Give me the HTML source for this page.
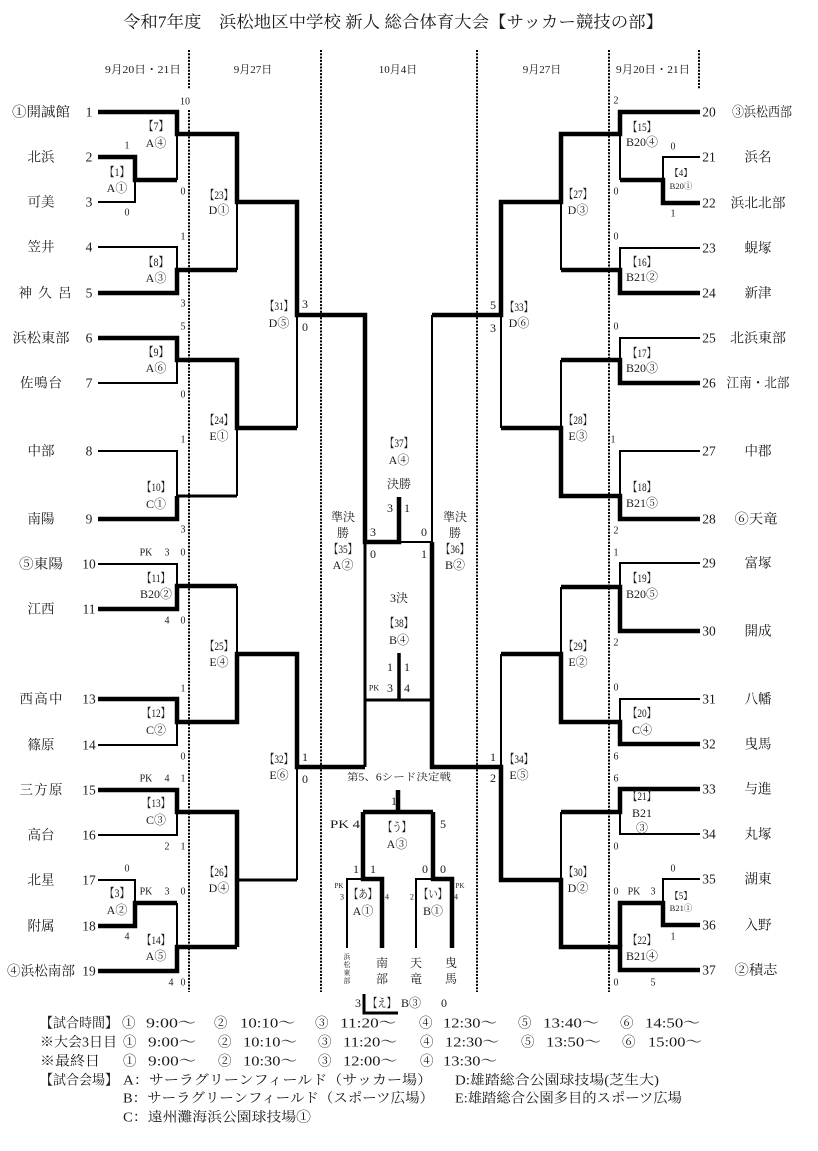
<!DOCTYPE html>
<html><head><meta charset="utf-8"><style>
html,body{margin:0;padding:0;background:#fff;}
svg{display:block}
text{font-family:"Liberation Serif","Noto Serif CJK SC",serif;fill:#1a1a1a;text-anchor:middle;dominant-baseline:central}
.n{font-size:13.5px}
.l{font-size:12px}
.s{font-size:10px}
.ss{font-size:8px}
.h{font-size:11px}
.f{font-size:13.5px}
.f text{text-anchor:start}
.k{stroke:#000;stroke-width:4.5;fill:none;stroke-linejoin:miter}
.t{stroke:#000;stroke-width:2;fill:none}
.m{stroke:#000;stroke-width:3;fill:none}
.d{stroke:#000;stroke-width:2;stroke-dasharray:2 1.3;fill:none}
</style></head><body>
<svg width="818" height="1151" viewBox="0 0 818 1151" xmlns="http://www.w3.org/2000/svg">
<rect width="818" height="1151" fill="#fff"/>
<!-- title -->
<text x="123" y="22" style="font-size:16.5px;text-anchor:start" textLength="540" lengthAdjust="spacingAndGlyphs">令和7年度　浜松地区中学校 新人 総合体育大会【サッカー競技の部】</text>
<!-- header dates -->
<text class="h" x="143" y="70" textLength="76" lengthAdjust="spacingAndGlyphs">9月20日・21日</text>
<text class="h" x="253" y="70">9月27日</text>
<text class="h" x="398" y="70">10月4日</text>
<text class="h" x="542" y="70">9月27日</text>
<text class="h" x="653" y="70" textLength="74" lengthAdjust="spacingAndGlyphs">9月20日・21日</text>
<!-- dotted lines -->
<path class="d" d="M189 50V89M189 110V992M321 50V992M477 50V992M609 50V992M699 50V89"/>

<!-- LEFT BRACKET LINES -->
<path class="k" d="M98 112H177V134H237V202H297V315H365V542H399V497"/>
<path class="t" d="M177 134V180"/>
<path class="k" d="M98 157H135V180H177"/>
<path class="t" d="M98 202H135V180"/>
<path class="t" d="M98 247H177V270"/>
<path class="k" d="M98 293H177V270H237"/>
<path class="t" d="M237 202V270"/>
<path class="k" d="M98 338H177V360H237V428H297"/>
<path class="t" d="M98 383H177V360"/>
<path class="t" d="M297 315V428"/>
<path class="t" d="M98 451H177V496"/>
<path class="k" d="M98 519H177V496"/>
<path class="m" d="M177 496H237"/>
<path class="t" d="M237 428V496"/>
<path class="t" d="M98 564H177V586"/>
<path class="k" d="M98 609H177V586H237"/>
<path class="t" d="M237 586V654"/>
<path class="k" d="M98 699H177V722H237V654H297V767H365"/>
<path class="t" d="M98 745H177V722"/>
<path class="t" d="M297 767V880"/>
<path class="k" d="M98 790H177V812H237V947"/>
<path class="t" d="M98 835H177V812"/>
<path class="t" d="M98 880H135V903"/>
<path class="k" d="M98 926H135V903H177"/>
<path class="t" d="M177 903V947"/>
<path class="k" d="M98 971H177V947H237"/>
<path class="m" d="M237 880H297"/>
<!-- center -->
<path class="m" d="M365 542V767"/>
<path class="t" d="M399 542H432"/>
<path class="t" d="M432 315V542"/>
<path class="k" d="M432 542V767H501V880H561V947H620V970H700"/>
<path class="m" d="M365 700H432"/>
<path class="k" style="stroke-width:3.5" d="M399 653V700"/>

<!-- RIGHT BRACKET LINES -->
<path class="k" d="M432 315H501V202H561V134H620V112H700"/>
<path class="t" d="M620 134V180"/>
<path class="k" d="M700 203H663V180H620"/>
<path class="t" d="M700 157H663V180"/>
<path class="t" d="M700 248H620V270"/>
<path class="k" d="M700 293H620V270H561"/>
<path class="t" d="M561 202V270"/>
<path class="t" d="M501 315V428"/>
<path class="t" d="M700 338H620V360"/>
<path class="k" d="M700 383H620V360H561"/>
<path class="t" d="M561 360V428"/>
<path class="t" d="M700 451H620V496"/>
<path class="k" d="M700 519H620V496H561V428H501"/>
<path class="t" d="M700 563H620V587"/>
<path class="k" d="M700 631H620V587H561"/>
<path class="t" d="M561 587V654"/>
<path class="t" d="M700 699H620V722"/>
<path class="k" d="M700 744H620V722H561V654H501"/>
<path class="t" d="M501 654V767"/>
<path class="k" d="M700 789H620V812H561"/>
<path class="t" d="M700 834H620V812"/>
<path class="t" d="M561 812V880"/>
<path class="t" d="M700 879H663V903"/>
<path class="k" d="M700 925H663V903H620V947"/>

<!-- seed decision bracket -->
<path class="k" d="M398 790V812M363 812H433M363 812V879H382V948M433 812V879H452V948"/>
<path class="t" d="M363 879H347V948M433 879H416V948"/>
<path class="m" d="M364 994V1013H398"/>

<!-- LEFT NAMES -->
<g class="n">
<text x="41" y="112" textLength="58" lengthAdjust="spacingAndGlyphs">①開誠館</text>
<text x="41" y="157" textLength="27">北浜</text>
<text x="41" y="202" textLength="27">可美</text>
<text x="41" y="247" textLength="27">笠井</text>
<text x="45" y="293" textLength="53">神久呂</text>
<text x="41" y="338" textLength="57" lengthAdjust="spacingAndGlyphs">浜松東部</text>
<text x="41" y="383" textLength="42">佐鳴台</text>
<text x="41" y="451" textLength="27">中部</text>
<text x="41" y="519" textLength="27">南陽</text>
<text x="41" y="564" textLength="44" lengthAdjust="spacingAndGlyphs">⑤東陽</text>
<text x="41" y="609" textLength="27">江西</text>
<text x="41" y="699" textLength="43">西高中</text>
<text x="41" y="745" textLength="27">篠原</text>
<text x="41" y="790" textLength="43">三方原</text>
<text x="41" y="835" textLength="27">高台</text>
<text x="41" y="880" textLength="27">北星</text>
<text x="41" y="926" textLength="27">附属</text>
<text x="41" y="971" textLength="68" lengthAdjust="spacingAndGlyphs">④浜松南部</text>
</g>
<g class="n">
<text x="89" y="112">1</text><text x="89" y="157">2</text><text x="89" y="202">3</text>
<text x="89" y="247">4</text><text x="89" y="293">5</text><text x="89" y="338">6</text>
<text x="89" y="383">7</text><text x="89" y="451">8</text><text x="89" y="519">9</text>
<text x="89" y="564">10</text><text x="89" y="609">11</text><text x="89" y="699">13</text>
<text x="89" y="745">14</text><text x="89" y="790">15</text><text x="89" y="835">16</text>
<text x="89" y="880">17</text><text x="89" y="926">18</text><text x="89" y="971">19</text>
</g>
<!-- RIGHT NAMES -->
<g class="n">
<text x="709" y="112">20</text><text x="709" y="157">21</text><text x="709" y="203">22</text>
<text x="709" y="248">23</text><text x="709" y="293">24</text><text x="709" y="338">25</text>
<text x="709" y="383">26</text><text x="709" y="451">27</text><text x="709" y="519">28</text>
<text x="709" y="563">29</text><text x="709" y="631">30</text><text x="709" y="699">31</text>
<text x="709" y="744">32</text><text x="709" y="789">33</text><text x="709" y="834">34</text>
<text x="709" y="879">35</text><text x="709" y="925">36</text><text x="709" y="970">37</text>
</g>
<g class="n">
<text x="762" y="112" textLength="60" lengthAdjust="spacingAndGlyphs">③浜松西部</text>
<text x="758" y="157" textLength="27">浜名</text>
<text x="758" y="203" textLength="55" lengthAdjust="spacingAndGlyphs">浜北北部</text>
<text x="758" y="248" textLength="27">蜆塚</text>
<text x="758" y="293" textLength="27">新津</text>
<text x="758" y="338" textLength="56" lengthAdjust="spacingAndGlyphs">北浜東部</text>
<text x="758" y="383" textLength="63" lengthAdjust="spacingAndGlyphs">江南・北部</text>
<text x="758" y="451" textLength="27">中郡</text>
<text x="756" y="519" textLength="43" lengthAdjust="spacingAndGlyphs">⑥天竜</text>
<text x="758" y="563" textLength="27">富塚</text>
<text x="758" y="631" textLength="27">開成</text>
<text x="758" y="699" textLength="27">八幡</text>
<text x="758" y="744" textLength="27">曳馬</text>
<text x="758" y="789" textLength="27">与進</text>
<text x="758" y="834" textLength="27">丸塚</text>
<text x="758" y="879" textLength="27">湖東</text>
<text x="758" y="925" textLength="27">入野</text>
<text x="756" y="970" textLength="43" lengthAdjust="spacingAndGlyphs">②積志</text>
</g>

<!-- LEFT MATCH LABELS -->
<g class="l">
<text x="156" y="126" textLength="25" lengthAdjust="spacingAndGlyphs">【7】</text><text x="156" y="143">A④</text>
<text x="117" y="172" textLength="25" lengthAdjust="spacingAndGlyphs">【1】</text><text x="117" y="188">A①</text>
<text x="156" y="262" textLength="25" lengthAdjust="spacingAndGlyphs">【8】</text><text x="156" y="278">A③</text>
<text x="219" y="195" textLength="28" lengthAdjust="spacingAndGlyphs">【23】</text><text x="219" y="210">D①</text>
<text x="279" y="306" textLength="28" lengthAdjust="spacingAndGlyphs">【31】</text><text x="279" y="323">D⑤</text>
<text x="156" y="352" textLength="25" lengthAdjust="spacingAndGlyphs">【9】</text><text x="156" y="368">A⑥</text>
<text x="156" y="487" textLength="28" lengthAdjust="spacingAndGlyphs">【10】</text><text x="156" y="504">C①</text>
<text x="219" y="420" textLength="28" lengthAdjust="spacingAndGlyphs">【24】</text><text x="219" y="436">E①</text>
<text x="156" y="578" textLength="28" lengthAdjust="spacingAndGlyphs">【11】</text><text x="156" y="594">B20②</text>
<text x="219" y="646" textLength="28" lengthAdjust="spacingAndGlyphs">【25】</text><text x="219" y="662">E④</text>
<text x="156" y="713" textLength="28" lengthAdjust="spacingAndGlyphs">【12】</text><text x="156" y="730">C②</text>
<text x="279" y="759" textLength="28" lengthAdjust="spacingAndGlyphs">【32】</text><text x="279" y="775">E⑥</text>
<text x="156" y="803" textLength="28" lengthAdjust="spacingAndGlyphs">【13】</text><text x="156" y="820">C③</text>
<text x="117" y="893" textLength="25" lengthAdjust="spacingAndGlyphs">【3】</text><text x="117" y="910">A②</text>
<text x="219" y="872" textLength="28" lengthAdjust="spacingAndGlyphs">【26】</text><text x="219" y="888">D④</text>
<text x="156" y="940" textLength="28" lengthAdjust="spacingAndGlyphs">【14】</text><text x="156" y="956">A⑤</text>
</g>
<!-- RIGHT MATCH LABELS -->
<g class="l">
<text x="642" y="127" textLength="28" lengthAdjust="spacingAndGlyphs">【15】</text><text x="642" y="142">B20④</text>
<text x="578" y="194" textLength="28" lengthAdjust="spacingAndGlyphs">【27】</text><text x="578" y="210">D③</text>
<text x="642" y="262" textLength="28" lengthAdjust="spacingAndGlyphs">【16】</text><text x="642" y="277">B21②</text>
<text x="519" y="307" textLength="28" lengthAdjust="spacingAndGlyphs">【33】</text><text x="519" y="323">D⑥</text>
<text x="642" y="353" textLength="28" lengthAdjust="spacingAndGlyphs">【17】</text><text x="642" y="368">B20③</text>
<text x="578" y="420" textLength="28" lengthAdjust="spacingAndGlyphs">【28】</text><text x="578" y="436">E③</text>
<text x="642" y="487" textLength="28" lengthAdjust="spacingAndGlyphs">【18】</text><text x="642" y="503">B21⑤</text>
<text x="642" y="578" textLength="28" lengthAdjust="spacingAndGlyphs">【19】</text><text x="642" y="594">B20⑤</text>
<text x="578" y="646" textLength="28" lengthAdjust="spacingAndGlyphs">【29】</text><text x="578" y="662">E②</text>
<text x="642" y="713" textLength="28" lengthAdjust="spacingAndGlyphs">【20】</text><text x="642" y="730">C④</text>
<text x="519" y="759" textLength="28" lengthAdjust="spacingAndGlyphs">【34】</text><text x="519" y="775">E⑤</text>
<text x="642" y="796" textLength="28" lengthAdjust="spacingAndGlyphs">【21】</text><text x="642" y="813">B21</text><text x="642" y="828">③</text>
<text x="578" y="872" textLength="28" lengthAdjust="spacingAndGlyphs">【30】</text><text x="578" y="888">D②</text>
<text x="642" y="940" textLength="28" lengthAdjust="spacingAndGlyphs">【22】</text><text x="642" y="956">B21④</text>
</g>
<g style="font-size:9px">
<text x="681" y="173">【4】</text><text x="681" y="186" style="font-size:8.5px">B20①</text>
<text x="681" y="896">【5】</text><text x="681" y="908" style="font-size:8.5px">B21①</text>
</g>

<!-- LEFT SCORES -->
<g class="s">
<text x="185" y="102">10</text><text x="183" y="192">0</text>
<text x="127" y="146">1</text><text x="127" y="213">0</text>
<text x="183" y="237">1</text><text x="183" y="304">3</text>
<text x="183" y="327">5</text><text x="183" y="395">0</text>
<text x="183" y="440">1</text><text x="183" y="530">3</text>
<text x="146" y="553">PK</text><text x="167" y="553">3</text><text x="183" y="553">0</text>
<text x="167" y="621">4</text><text x="183" y="621">0</text>
<text x="183" y="689">1</text><text x="183" y="757">0</text>
<text x="146" y="779">PK</text><text x="167" y="779">4</text><text x="183" y="779">1</text>
<text x="167" y="847">2</text><text x="183" y="847">1</text>
<text x="127" y="869">0</text><text x="127" y="937">4</text>
<text x="146" y="892">PK</text><text x="167" y="892">3</text><text x="183" y="892">0</text>
<text x="171" y="983">4</text><text x="183" y="983">0</text>
</g>
<!-- RIGHT SCORES -->
<g class="s">
<text x="616" y="101">2</text><text x="616" y="192">0</text>
<text x="673" y="147">0</text><text x="673" y="214">1</text>
<text x="616" y="237">0</text><text x="616" y="327">0</text>
<text x="613" y="440">1</text><text x="616" y="531">2</text>
<text x="616" y="553">1</text><text x="616" y="643">2</text>
<text x="616" y="688">0</text><text x="616" y="757">6</text>
<text x="616" y="779">6</text><text x="616" y="847">0</text>
<text x="673" y="869">0</text><text x="673" y="937">1</text>
<text x="616" y="892">0</text><text x="634" y="892">PK</text><text x="653" y="892">3</text>
<text x="616" y="983">0</text><text x="653" y="983">5</text>
</g>
<!-- semi / final scores -->
<g class="l">
<text x="305" y="304">3</text><text x="305" y="327">0</text>
<text x="305" y="757">1</text><text x="305" y="779">0</text>
<text x="493" y="305">5</text><text x="493" y="328">3</text>
<text x="493" y="757">1</text><text x="493" y="778">2</text>
<text x="399" y="443" textLength="28" lengthAdjust="spacingAndGlyphs">【37】</text><text x="399" y="460">A④</text>
<text x="399" y="484">決勝</text>
<text x="390" y="508">3</text><text x="407" y="508">1</text>
<text x="343" y="517">準決</text><text x="343" y="533">勝</text>
<text x="343" y="549" textLength="28" lengthAdjust="spacingAndGlyphs">【35】</text><text x="343" y="565">A②</text>
<text x="455" y="517">準決</text><text x="455" y="533">勝</text>
<text x="455" y="549" textLength="28" lengthAdjust="spacingAndGlyphs">【36】</text><text x="455" y="565">B②</text>
<text x="373" y="532">3</text><text x="424" y="532">0</text>
<text x="373" y="554">0</text><text x="424" y="554">1</text>
<text x="399" y="598">3決</text>
<text x="399" y="623" textLength="28" lengthAdjust="spacingAndGlyphs">【38】</text><text x="399" y="640">B④</text>
<text x="390" y="667">1</text><text x="407" y="667">1</text>
<text x="390" y="688">3</text><text x="407" y="688">4</text>
</g>
<text class="ss" x="374" y="688">PK</text>

<!-- seed decision -->
<text x="399" y="778" style="font-size:10px" textLength="104" lengthAdjust="spacingAndGlyphs">第5、6シード決定戦</text>
<g class="l">
<text x="394" y="801">1</text>
<text x="345" y="824" textLength="30" lengthAdjust="spacingAndGlyphs">PK 4</text>
<text x="443" y="824">5</text>
<text x="397" y="827" textLength="28" lengthAdjust="spacingAndGlyphs">【う】</text><text x="397" y="844">A③</text>
<text x="356" y="869">1</text><text x="373" y="869">1</text>
<text x="425" y="869">0</text><text x="443" y="869">0</text>
<text x="363" y="894" textLength="28" lengthAdjust="spacingAndGlyphs">【あ】</text><text x="363" y="911">A①</text>
<text x="433" y="894" textLength="28" lengthAdjust="spacingAndGlyphs">【い】</text><text x="433" y="911">B①</text>
<text x="382" y="963">南</text><text x="382" y="979">部</text>
<text x="416" y="963">天</text><text x="416" y="979">竜</text>
<text x="451" y="963">曳</text><text x="451" y="979">馬</text>
<text x="358" y="1003">3</text>
<text x="382" y="1003" textLength="28" lengthAdjust="spacingAndGlyphs">【え】</text>
<text x="411" y="1003">B③</text>
<text x="444" y="1003">0</text>
</g>
<g class="ss">
<text x="339" y="886" style="font-size:7px">PK</text><text x="342" y="897">3</text>
<text x="387" y="897">4</text>
<text x="412" y="897">2</text>
<text x="460" y="886" style="font-size:7px">PK</text><text x="456" y="897">4</text>
</g>
<g style="font-size:7px">
<text x="347" y="957">浜</text><text x="347" y="965">松</text><text x="347" y="973">東</text><text x="347" y="981">部</text>
</g>

<!-- FOOTER -->
<g class="f">
<text x="40" y="1023" textLength="78" lengthAdjust="spacingAndGlyphs">【試合時間】</text>
<text x="122" y="1023">①</text><text x="146" y="1023" textLength="50" lengthAdjust="spacingAndGlyphs">9:00～</text>
<text x="214" y="1023">②</text><text x="240" y="1023" textLength="55" lengthAdjust="spacingAndGlyphs">10:10～</text>
<text x="315" y="1023">③</text><text x="340" y="1023" textLength="56" lengthAdjust="spacingAndGlyphs">11:20～</text>
<text x="419" y="1023">④</text><text x="443" y="1023" textLength="54" lengthAdjust="spacingAndGlyphs">12:30～</text>
<text x="518" y="1023">⑤</text><text x="543" y="1023" textLength="56" lengthAdjust="spacingAndGlyphs">13:40～</text>
<text x="620" y="1023">⑥</text><text x="645" y="1023" textLength="55" lengthAdjust="spacingAndGlyphs">14:50～</text>

<text x="40" y="1042" textLength="77" lengthAdjust="spacingAndGlyphs">※大会3日目</text>
<text x="123" y="1042">①</text><text x="148" y="1042" textLength="48" lengthAdjust="spacingAndGlyphs">9:00～</text>
<text x="218" y="1042">②</text><text x="243" y="1042" textLength="54" lengthAdjust="spacingAndGlyphs">10:10～</text>
<text x="318" y="1042">③</text><text x="343" y="1042" textLength="54" lengthAdjust="spacingAndGlyphs">11:20～</text>
<text x="420" y="1042">④</text><text x="445" y="1042" textLength="54" lengthAdjust="spacingAndGlyphs">12:30～</text>
<text x="521" y="1042">⑤</text><text x="546" y="1042" textLength="55" lengthAdjust="spacingAndGlyphs">13:50～</text>
<text x="622" y="1042">⑥</text><text x="648" y="1042" textLength="54" lengthAdjust="spacingAndGlyphs">15:00～</text>

<text x="40" y="1061" textLength="60" lengthAdjust="spacingAndGlyphs">※最終日</text>
<text x="123" y="1061">①</text><text x="148" y="1061" textLength="48" lengthAdjust="spacingAndGlyphs">9:00～</text>
<text x="218" y="1061">②</text><text x="243" y="1061" textLength="54" lengthAdjust="spacingAndGlyphs">10:30～</text>
<text x="318" y="1061">③</text><text x="343" y="1061" textLength="54" lengthAdjust="spacingAndGlyphs">12:00～</text>
<text x="420" y="1061">④</text><text x="443" y="1061" textLength="54" lengthAdjust="spacingAndGlyphs">13:30～</text>

<text x="40" y="1080" textLength="78" lengthAdjust="spacingAndGlyphs">【試合会場】</text>
<text x="123" y="1080" textLength="309" lengthAdjust="spacingAndGlyphs">A：サーラグリーンフィールド（サッカー場）</text>
<text x="455" y="1080" textLength="204" lengthAdjust="spacingAndGlyphs">D:雄踏総合公園球技場(芝生大)</text>
<text x="123" y="1098" textLength="311" lengthAdjust="spacingAndGlyphs">B：サーラグリーンフィールド（スポーツ広場）</text>
<text x="455" y="1098" textLength="227" lengthAdjust="spacingAndGlyphs">E:雄踏総合公園多目的スポーツ広場</text>
<text x="123" y="1117" textLength="188" lengthAdjust="spacingAndGlyphs">C：遠州灘海浜公園球技場①</text>
</g>
</svg>
</body></html>
